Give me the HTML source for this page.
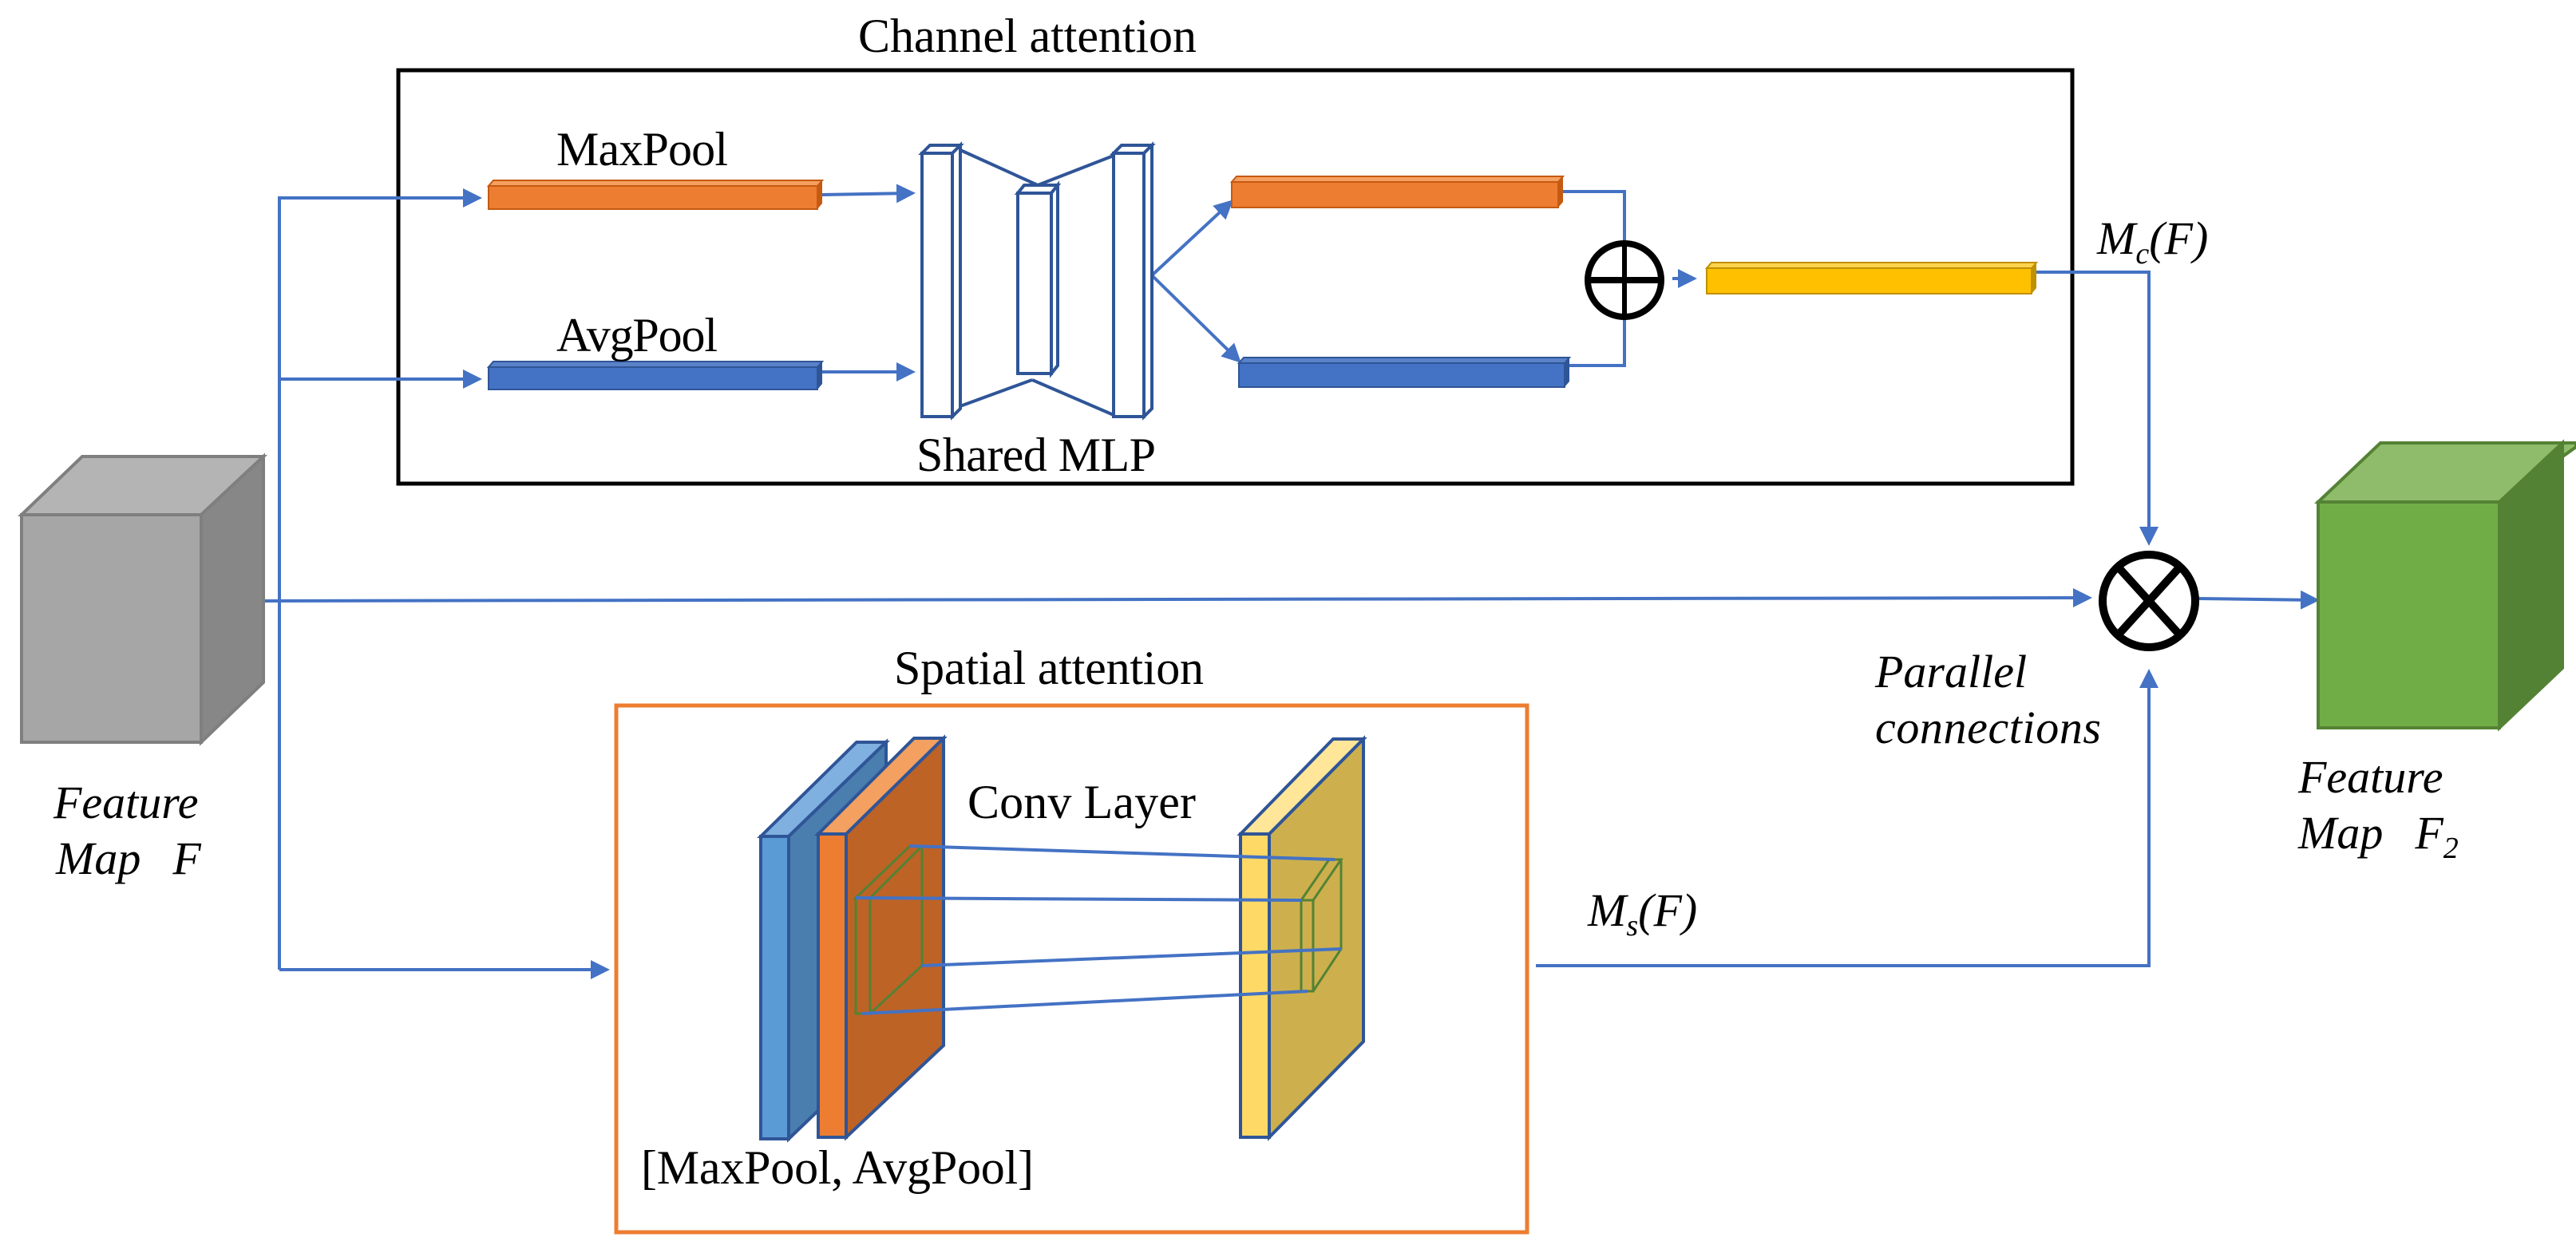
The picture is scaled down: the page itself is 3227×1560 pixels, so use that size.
<!DOCTYPE html>
<html><head><meta charset="utf-8"><style>html,body{margin:0;padding:0;background:#fff}svg{display:block}</style></head>
<body>
<svg width="3227" height="1560" viewBox="0 0 3227 1560" xmlns="http://www.w3.org/2000/svg" font-family="Liberation Serif, serif">
<defs>
<marker id="ar" markerWidth="6" markerHeight="6" refX="5" refY="3" orient="auto" markerUnits="strokeWidth"><path d="M0,0 L6,3 L0,6 z" fill="#4472c4"/></marker>
</defs>
<rect width="3227" height="1560" fill="#fff"/>

<!-- Channel attention box -->
<text x="1075" y="65" font-size="60" textLength="424">Channel attention</text>
<rect x="499" y="88" width="2097" height="518" fill="none" stroke="#000" stroke-width="5"/>

<!-- Spatial box -->
<text x="1120" y="857" font-size="60" textLength="388">Spatial attention</text>
<rect x="772" y="884" width="1141" height="660" fill="none" stroke="#ed7d31" stroke-width="5"/>

<g stroke="#4472c4" stroke-width="4" fill="none">
  <polyline points="350,1215 350,248 600,248" marker-end="url(#ar)"/>
  <line x1="350" y1="475" x2="600" y2="475" marker-end="url(#ar)"/>
  <line x1="350" y1="1215" x2="760" y2="1215" marker-end="url(#ar)"/>
  <line x1="1030" y1="244" x2="1143" y2="242" marker-end="url(#ar)"/>
  <line x1="1030" y1="466" x2="1143" y2="466" marker-end="url(#ar)"/>
  <line x1="1443" y1="345" x2="1542" y2="253" marker-end="url(#ar)"/>
  <line x1="1443" y1="345" x2="1552" y2="452" marker-end="url(#ar)"/>
  <polyline points="1958,240 2035,240 2035,458 1966,458"/>
  <line x1="2095" y1="349" x2="2122" y2="349" marker-end="url(#ar)"/>
  <polyline points="2551,341 2692,341 2692,680" marker-end="url(#ar)"/>
  <line x1="310" y1="753" x2="2617" y2="749" marker-end="url(#ar)"/>
  <line x1="2754" y1="750" x2="2902" y2="752" marker-end="url(#ar)"/>
  <polyline points="1924,1210 2692,1210 2692,842" marker-end="url(#ar)"/>
</g>

<g stroke-width="2">
  <polygon points="612,233 618,226 1030,226 1024,233" fill="#f4a060" stroke="#c55a11"/>
  <rect x="612" y="233" width="412" height="29" fill="#ed7d31" stroke="#c55a11"/>
  <polygon points="1024,233 1030,226 1030,255 1024,262" fill="#c55a11"/>
  <polygon points="612,460 618,453 1030,453 1024,460" fill="#5a82c8" stroke="#2f5597"/>
  <rect x="612" y="460" width="412" height="28" fill="#4472c4" stroke="#2f5597"/>
  <polygon points="1024,460 1030,453 1030,481 1024,488" fill="#2f5597"/>

  <polygon points="1543,228 1549,221 1958,221 1952,228" fill="#f4a060" stroke="#c55a11"/>
  <rect x="1543" y="228" width="409" height="32" fill="#ed7d31" stroke="#c55a11"/>
  <polygon points="1952,228 1958,221 1958,253 1952,260" fill="#c55a11"/>
  <polygon points="1552,455 1558,448 1966,448 1960,455" fill="#5a82c8" stroke="#2f5597"/>
  <rect x="1552" y="455" width="408" height="30" fill="#4472c4" stroke="#2f5597"/>
  <polygon points="1960,455 1966,448 1966,478 1960,485" fill="#2f5597"/>

  <polygon points="2138,336 2144,329 2551,329 2545,336" fill="#ffd34d" stroke="#bf9000"/>
  <rect x="2138" y="336" width="407" height="32" fill="#ffc000" stroke="#bf9000"/>
  <polygon points="2545,336 2551,329 2551,361 2545,368" fill="#bf9000"/>
</g>

<g stroke="#2f5597" stroke-width="4" fill="#fff">
  <line x1="1203" y1="188" x2="1300" y2="232"/>
  <line x1="1300" y1="232" x2="1395" y2="195"/>
  <line x1="1200" y1="510" x2="1293" y2="476"/>
  <line x1="1293" y1="476" x2="1395" y2="520"/>
  <polygon points="1155,192 1165,182 1203,182 1193,192"/>
  <rect x="1155" y="192" width="38" height="330"/>
  <polygon points="1193,192 1203,182 1203,512 1193,522"/>
  <polygon points="1275,242 1283,232 1325,232 1317,242"/>
  <rect x="1275" y="242" width="42" height="226"/>
  <polygon points="1317,242 1325,232 1325,458 1317,468"/>
  <polygon points="1395,192 1405,182 1443,182 1433,192"/>
  <rect x="1395" y="192" width="38" height="330"/>
  <polygon points="1433,192 1443,182 1443,512 1433,522"/>
</g>
<text x="1148" y="590" font-size="60" textLength="300">Shared MLP</text>
<text x="697" y="207" font-size="60" textLength="215">MaxPool</text>
<text x="697" y="440" font-size="60" textLength="202">AvgPool</text>

<ellipse cx="2035" cy="351" rx="46" ry="46" fill="none" stroke="#000" stroke-width="8"/>
<line x1="1989" y1="351" x2="2081" y2="351" stroke="#000" stroke-width="8"/>
<line x1="2035" y1="305" x2="2035" y2="397" stroke="#000" stroke-width="6"/>

<ellipse cx="2692" cy="753" rx="58" ry="58" fill="none" stroke="#000" stroke-width="10"/>
<line x1="2653" y1="710" x2="2731" y2="796" stroke="#000" stroke-width="10"/>
<line x1="2731" y1="710" x2="2653" y2="796" stroke="#000" stroke-width="10"/>

<text x="2627" y="318" font-size="58" font-style="italic">M<tspan font-size="38" dy="12">c</tspan><tspan dy="-12">(F)</tspan></text>
<text x="1989" y="1160" font-size="58" font-style="italic">M<tspan font-size="38" dy="12">s</tspan><tspan dy="-12">(F)</tspan></text>
<text x="2349" y="861" font-size="58" font-style="italic">Parallel</text>
<text x="2349" y="931" font-size="58" font-style="italic" textLength="283">connections</text>

<g stroke="#7f7f7f" stroke-width="4">
  <polygon points="27,645 103,572 330,572 252,645" fill="#b4b4b4"/>
  <polygon points="252,645 330,572 330,855 252,930" fill="#878787"/>
  <rect x="27" y="645" width="225" height="285" fill="#a6a6a6"/>
</g>
<text x="67" y="1025" font-size="58" font-style="italic">Feature</text>
<text x="70" y="1095" font-size="58" font-style="italic">Map<tspan dx="40">F</tspan></text>

<g stroke="#548235" stroke-width="4">
  <polygon points="2904,629 2982,555 3227,555 3227,560 3131,629" fill="#8fbc6a"/>
  <polygon points="3131,629 3210,555 3210,837 3131,912" fill="#548235"/>
  <rect x="2904" y="629" width="227" height="283" fill="#70ad47"/>
</g>
<text x="2879" y="993" font-size="58" font-style="italic">Feature</text>
<text x="2879" y="1063" font-size="58" font-style="italic">Map<tspan dx="40">F</tspan><tspan font-size="38" dy="12">2</tspan></text>

<g stroke="#2f5597" stroke-width="4">
  <polygon points="953,1048 1073,930 1110,930 988,1048" fill="#7fb0e0"/>
  <polygon points="988,1048 1110,930 1110,1310 988,1427" fill="#4a7eae"/>
  <rect x="953" y="1048" width="35" height="379" fill="#5b9bd5"/>
  <polygon points="1025,1045 1145,925 1182,925 1060,1045" fill="#f4a060"/>
  <polygon points="1060,1045 1182,925 1182,1310 1060,1425" fill="#bd6326"/>
  <rect x="1025" y="1045" width="35" height="380" fill="#ed7d31"/>
  <polygon points="1554,1045 1670,926 1708,926 1590,1045" fill="#ffe699"/>
  <polygon points="1590,1045 1708,926 1708,1305 1590,1425" fill="#cdb04d"/>
  <rect x="1554" y="1045" width="36" height="380" fill="#ffd966"/>
</g>
<g stroke="#548235" stroke-width="3" fill="none">
  <polygon points="1072,1125 1140,1060 1155,1060 1090,1125"/>
  <polyline points="1072,1125 1072,1270 1090,1270 1090,1125"/>
  <polyline points="1155,1060 1155,1210 1090,1270"/>
  <polygon points="1630,1128 1665,1077 1680,1077 1645,1128"/>
  <polyline points="1630,1128 1630,1242 1645,1242 1645,1128"/>
  <polyline points="1680,1077 1680,1189 1645,1242"/>
</g>
<g stroke="#4472c4" stroke-width="4">
  <line x1="1140" y1="1060" x2="1672" y2="1077"/>
  <line x1="1072" y1="1125" x2="1630" y2="1128"/>
  <line x1="1155" y1="1210" x2="1680" y2="1189"/>
  <line x1="1080" y1="1270" x2="1638" y2="1242"/>
</g>
<text x="1212" y="1025" font-size="60" textLength="286">Conv Layer</text>
<text x="803" y="1483" font-size="60" textLength="492">[MaxPool, AvgPool]</text>
</svg>
</body></html>
